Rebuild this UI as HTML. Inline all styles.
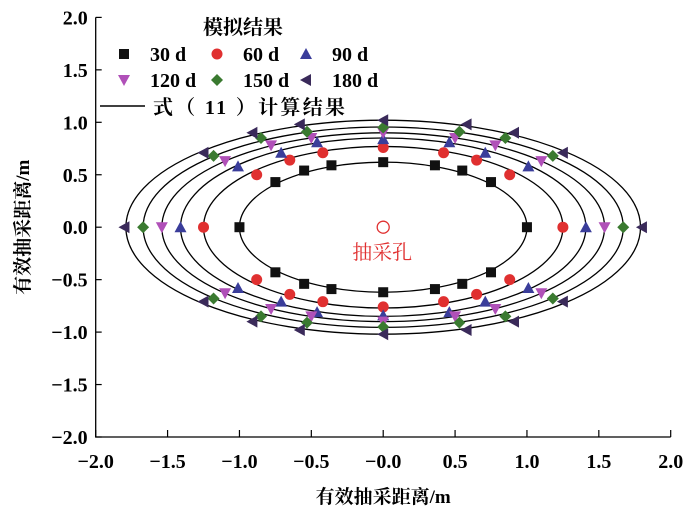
<!DOCTYPE html>
<html><head><meta charset="utf-8"><style>
html,body{margin:0;padding:0;background:#fff;}
svg{display:block;font-family:"Liberation Serif","Noto Serif CJK SC",serif;}
</style></head><body>
<svg id="chart" width="700" height="520"></svg>
<script>
const seriesNames=["30 d","60 d","90 d","120 d","150 d","180 d"];
const semiA=[1.0,1.25,1.41,1.54,1.67,1.79];
const semiB=[0.62,0.77,0.85,0.90,0.955,1.02];
const ptsX=[[1.0,0.75,0.55,0.36,0],[1.25,0.88,0.65,0.42,0],[1.41,1.01,0.71,0.46,0],[1.54,1.10,0.78,0.50,0],[1.67,1.18,0.85,0.53,0],[1.80,1.25,0.91,0.58,0]];
const ptsY=[[0,0.43,0.54,0.59,0.62],[0,0.50,0.64,0.71,0.76],[0,0.58,0.71,0.81,0.84],[0,0.63,0.78,0.85,0.90],[0,0.68,0.85,0.91,0.95],[0,0.71,0.90,0.98,1.02]];
const ticks=[-2,-1.5,-1,-0.5,0,0.5,1,1.5,2];
const tickLabels=["\u22122.0","\u22121.5","\u22121.0","\u22120.5","\u22120.0","0.5","1.0","1.5","2.0"];
const NS="http://www.w3.org/2000/svg";
const svg=document.getElementById('chart');
const X=v=>383.2+v*143.75, Y=v=>227.2-v*104.9;
function mk(t,a,p){const e=document.createElementNS(NS,t);for(const k in a)e.setAttribute(k,a[k]);(p||svg).appendChild(e);return e;}
const colors=["#111","#e03030","#3a3d9a","#b050b8","#3a7a30","#3a2a5a"];
function marker(i,cx,cy,g){
  let e;const s=6;
  if(i==0)e=mk('rect',{x:cx-5,y:cy-5,width:10,height:10,fill:colors[0]},g);
  else if(i==1)e=mk('circle',{cx:cx,cy:cy,r:5.5,fill:colors[1]},g);
  else if(i==2)e=mk('polygon',{points:`${cx},${cy-s} ${cx+s},${cy+5} ${cx-s},${cy+5}`,fill:colors[2]},g);
  else if(i==3)e=mk('polygon',{points:`${cx},${cy+s} ${cx+s},${cy-5} ${cx-s},${cy-5}`,fill:colors[3]},g);
  else if(i==4)e=mk('polygon',{points:`${cx},${cy-s} ${cx+s},${cy} ${cx},${cy+s} ${cx-s},${cy}`,fill:colors[4]},g);
  else e=mk('polygon',{points:`${cx-s},${cy} ${cx+5},${cy-s} ${cx+5},${cy+s}`,fill:colors[5]},g);
  return e;
}
const ax=mk('path',{d:`M${X(-2)},${Y(2)}V${Y(-2)}H${X(2)}`,fill:'none',stroke:'#000','stroke-width':1.3});


ticks.forEach((t,i)=>{
  mk('line',{x1:X(-2),x2:X(-2)+6,y1:Y(t),y2:Y(t),stroke:'#000','stroke-width':1.2});
  mk('line',{x1:X(t),x2:X(t),y1:Y(-2),y2:Y(-2)-7,stroke:'#000','stroke-width':1.2});
  const yl=mk('text',{x:X(-2)-8,y:Y(t)+7,'text-anchor':'end','font-size':20,'font-weight':'bold'});
  yl.textContent=(t<0?"\u2212":"")+Math.abs(t).toFixed(1);
  
  
  const xl=mk('text',{x:X(t),y:Y(-2)+31,'text-anchor':'middle','font-size':20,'font-weight':'bold'});
  xl.textContent=tickLabels[i];
  
  
});
semiA.forEach((a,i)=>{
  const e=mk('ellipse',{cx:X(0),cy:Y(0),rx:a*143.75,ry:semiB[i]*104.9,fill:'none',stroke:'#000','stroke-width':1.3});
  
  
});
ptsX.forEach((xs,i)=>{
  const g=mk('g',{});
  
  
  xs.forEach((x,j)=>{
    const y=ptsY[i][j];
    const combos=[[1,1],[-1,1],[1,-1],[-1,-1]];
    const seen={};
    combos.forEach(([sx,sy])=>{
      const k=(sx*x)+','+(sy*y);
      if(seen[k])return;seen[k]=1;
      const m=marker(i,X(sx*x),Y(sy*y),g);
      
      
    });
  });
});
const w=mk('circle',{cx:X(0),cy:Y(0),r:6,fill:'#fff',stroke:'#e03030','stroke-width':1.3});


const wl=mk('text',{x:X(0)-1,y:Y(0)+32,'text-anchor':'middle','font-size':20,fill:'#e03030'});
wl.textContent="抽采孔";


const lg=mk('g',{});


const lt=mk('text',{x:243,y:34,'text-anchor':'middle','font-size':20,'font-weight':'bold'},lg);
lt.textContent="模拟结果";
const lpos=[[124,54],[217,54],[306,54],[124,80],[217,80],[306,80]];
seriesNames.forEach((n,i)=>{
  const [mx,my]=lpos[i];
  marker(i,mx,my,lg);
  const t=mk('text',{x:mx+26,y:my+7,'font-size':20,'font-weight':'bold'},lg);
  t.textContent=n;
  
  
});
mk('line',{x1:100,x2:145,y1:106,y2:106,stroke:'#000','stroke-width':1.5},lg);
const lf=mk('text',{x:153,y:114,'font-size':20,'font-weight':'bold','textLength':192},lg);
lf.textContent="式（ 11 ）计算结果";
const xt=mk('text',{x:X(0),y:503,'text-anchor':'middle','font-size':19,'font-weight':'bold'});
xt.textContent="有效抽采距离/m";


const yt=mk('text',{x:0,y:0,'text-anchor':'middle','font-size':19,'font-weight':'bold',transform:`translate(29,${Y(0)}) rotate(-90)`});
yt.textContent="有效抽采距离/m";


</script>
</body></html>
